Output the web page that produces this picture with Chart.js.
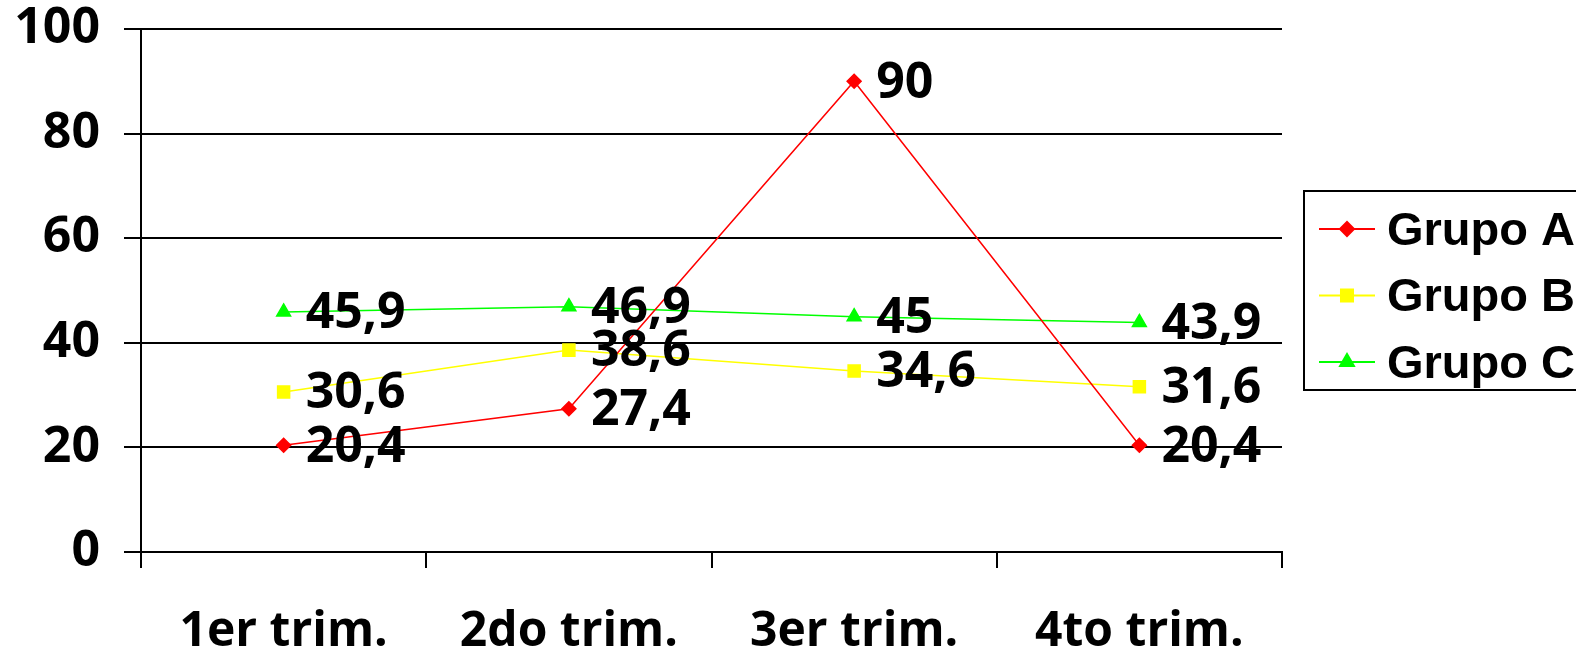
<!DOCTYPE html>
<html lang="es">

<head>
  <meta charset="UTF-8" />
  <title>grupos por trimestre</title>
  <script src="https://cdn.jsdelivr.net/npm/chart.js"></script>
</head>
<style>
  body {
    margin: 0;
    background: white;
    overflow: hidden;
  }
</style>

<body>
  <canvas id="myChart" width="1576" height="646"></canvas>

  <script>
    const trimestres = ['1er trim.', '2do trim.', '3er trim.', '4to trim.'];
    const grupoA = [20.4, 27.4, 90, 20.4];
    const grupoB = [30.6, 38.6, 34.6, 31.6];
    const grupoC = [45.9, 46.9, 45, 43.9];
    const yTicks = [0, 20, 40, 60, 80, 100];

    const fuente = "'Open Sans', sans-serif";

    // etiquetas de valor a la derecha de cada punto
    const etiquetas = {
      id: 'etiquetas',
      afterDatasetsDraw(chart) {
        const ctx = chart.ctx;
        ctx.save();
        ctx.font = "bold 50px " + fuente;
        ctx.fillStyle = 'black';
        ctx.textAlign = 'left';
        ctx.textBaseline = 'middle';
        chart.data.datasets.forEach((ds, i) => {
          chart.getDatasetMeta(i).data.forEach((pt, j) => {
            const txt = String(ds.data[j]).replace('.', ',');
            ctx.fillText(txt, pt.x + 22, pt.y + 2);
          });
        });
        ctx.restore();
      }
    };

    // leyenda con linea + marcador, como en excel
    const leyenda = {
      id: 'leyenda',
      afterDraw(chart) {
        const ctx = chart.ctx;
        const x0 = chart.chartArea.right + 22;
        const y0 = 191;
        ctx.save();
        ctx.strokeStyle = 'black';
        ctx.lineWidth = 2;
        ctx.strokeRect(x0, y0, 320, 199);
        chart.data.datasets.forEach((ds, i) => {
          const y = 229 + i * 66.5;
          ctx.strokeStyle = ds.borderColor;
          ctx.lineWidth = 2;
          ctx.beginPath();
          ctx.moveTo(x0 + 15, y);
          ctx.lineTo(x0 + 71, y);
          ctx.stroke();
          Chart.helpers.drawPoint(ctx, {
            pointStyle: ds.pointStyle,
            radius: ds.pointRadius,
            borderWidth: 1,
            rotation: 0
          }, x0 + 43, y);
          ctx.fillStyle = ds.pointBackgroundColor;
          ctx.strokeStyle = ds.pointBackgroundColor;
          ctx.fill();
          ctx.fillStyle = 'black';
          ctx.font = "bold 47px 'Liberation Sans', Arial, sans-serif";
          ctx.textBaseline = 'middle';
          ctx.fillText(ds.label, x0 + 83, y + 3);
        });
        ctx.restore();
      }
    };

    function serie(label, data, color, estilo, radio) {
      return {
        label: label,
        data: data,
        borderColor: color,
        backgroundColor: color,
        pointBackgroundColor: color,
        pointBorderColor: color,
        pointStyle: estilo,
        pointRadius: radio,
        pointHoverRadius: radio,
        borderWidth: 1.5,
        tension: 0
      };
    }

    new Chart(document.getElementById('myChart'), {
      type: 'line',
      data: {
        labels: trimestres,
        datasets: [
          serie('Grupo A', grupoA, '#ff0000', 'rectRot', 7),
          serie('Grupo B', grupoB, '#ffff00', 'rect', 8.5),
          serie('Grupo C', grupoC, '#00ff00', 'triangle', 8)
        ]
      },
      options: {
        responsive: false,
        animation: false,
        layout: { padding: { top: 29, right: 294, left: 0, bottom: 0 } },
        plugins: {
          legend: { display: false },
          tooltip: { enabled: false }
        },
        scales: {
          x: {
            offset: true,
            grid: {
              offset: true,
              color: (c) => (c.index === 4 || c.index === 0) ? 'black' : 'rgba(0,0,0,0)',
              tickColor: 'black',
              lineWidth: 2,
              tickWidth: 2,
              tickLength: 16
            },
            border: { color: 'black', width: 2 },
            ticks: {
              color: 'black',
              font: { family: fuente, size: 48, weight: 'bold' },
              padding: 36,
              maxRotation: 0
            },
            afterFit: (s) => {
              s.height = 94;
              s.paddingLeft = 0;
              s.paddingRight = 0;
            }
          },
          y: {
            min: 0,
            max: 100,
            afterBuildTicks: (s) => { s.ticks = yTicks.map(v => ({ value: v })); },
            grid: {
              color: 'black',
              lineWidth: 2,
              tickLength: 17
            },
            border: { color: 'black', width: 2 },
            ticks: {
              color: 'black',
              font: { family: fuente, size: 50, weight: 'bold' },
              padding: 24
            },
            afterFit: (s) => {
              s.width = 141;
              s.paddingTop = 0;
              s.paddingBottom = 0;
            }
          }
        }
      },
      plugins: [etiquetas, leyenda]
    });
  </script>
</body>

</html>
